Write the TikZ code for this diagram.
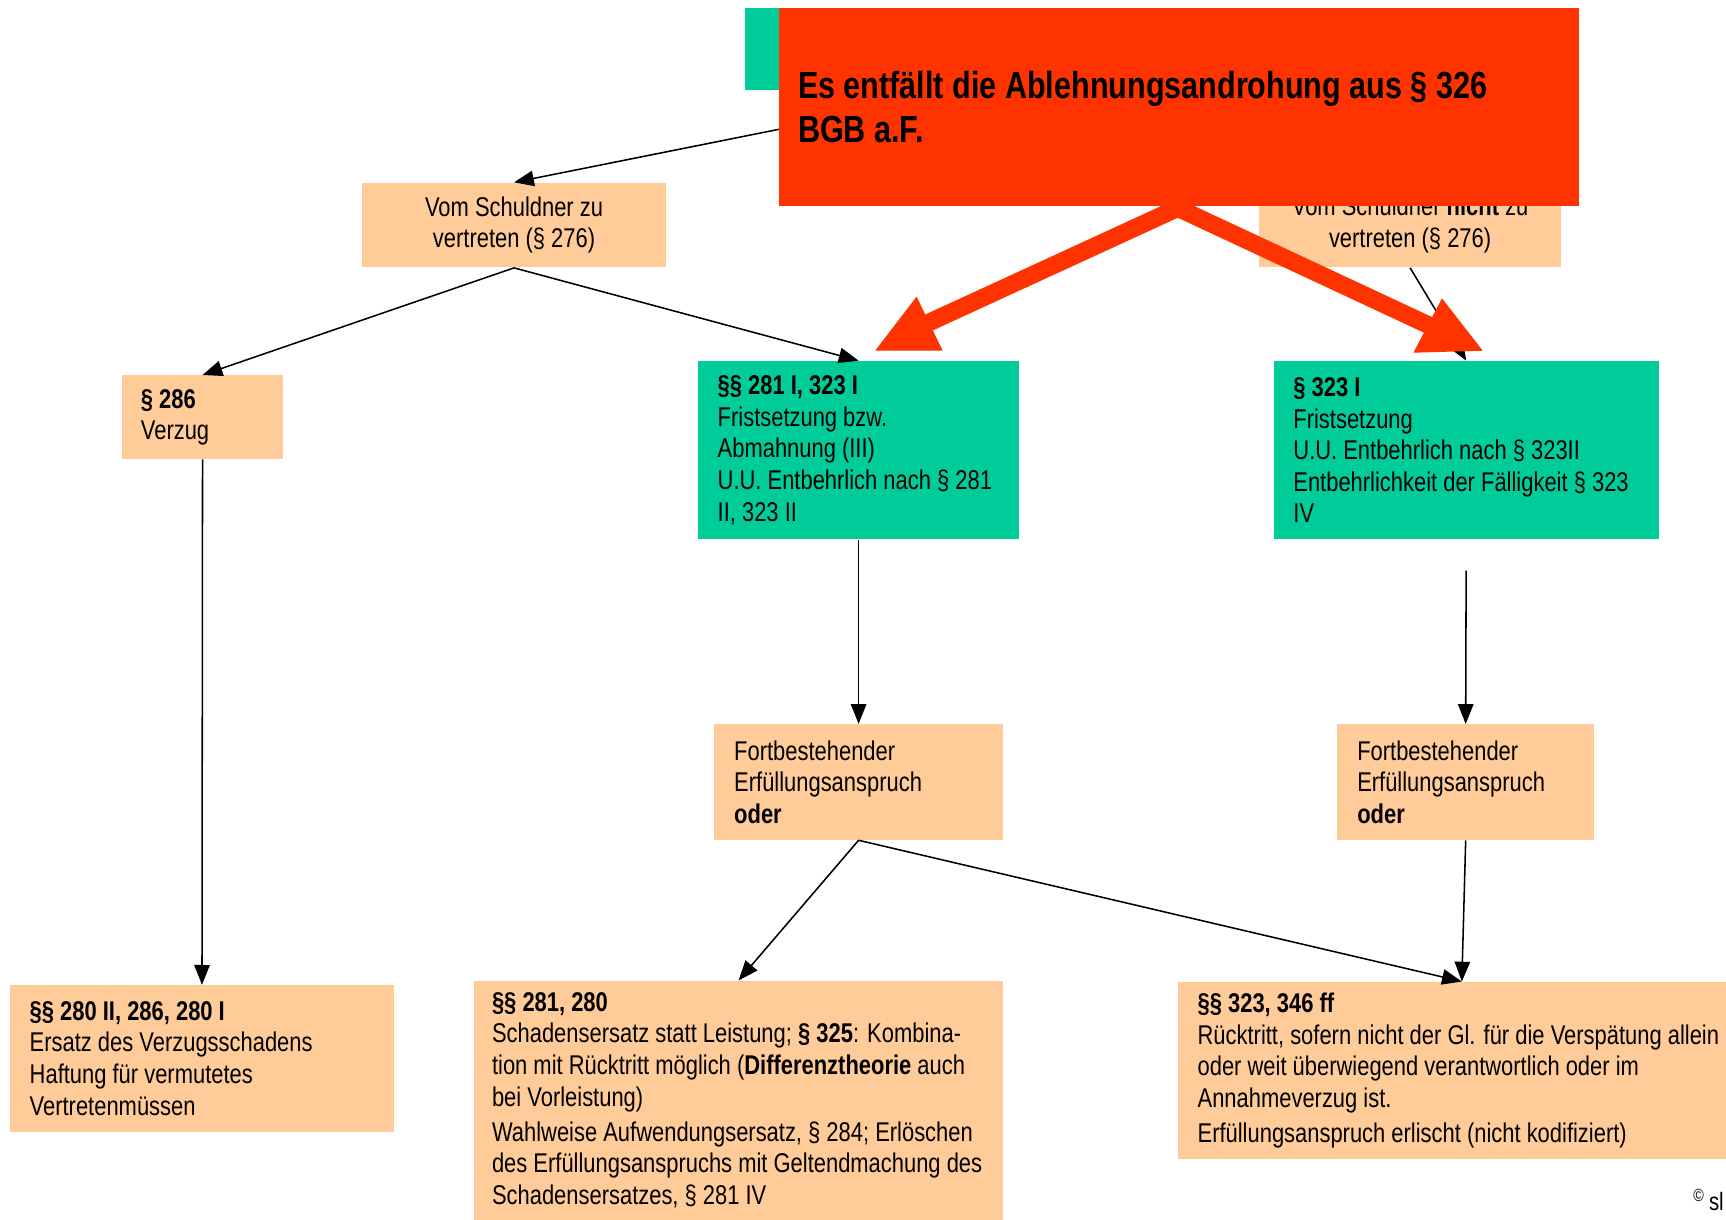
\documentclass[tikz,border=0pt]{standalone}
\usepackage{fontspec}
\setmainfont{Liberation Sans}[FakeStretch=0.81]
\usetikzlibrary{arrows.meta,positioning}
\definecolor{peach}{HTML}{FFCC99}
\definecolor{mint}{HTML}{00CC99}
\definecolor{signal}{HTML}{FF3300}
\tikzset{
  box/.style={fill=peach, inner xsep=3.6mm, inner ysep=0pt, align=flush left,
    font=\fontsize{14}{16.3}\selectfont},
  gbox/.style={box, fill=mint},
  arr/.style={-{Triangle[length=3.6mm,width=2.8mm]}, line width=0.8pt},
}
\begin{document}
\begin{tikzpicture}[x=0.2mm, y=-0.2mm]
\useasboundingbox (0,0) rectangle (1568,1108);

% Head (hidden behind the note)
\node[fill=mint, minimum width=82.4mm, minimum height=15mm] (src) at (883,44.5) {};

% Vertretenmuessen
\node[box, align=center, minimum width=55.2mm, minimum height=15.4mm] (vzv) at (467,204.5)
  {Vom Schuldner zu\\vertreten (§ 276)};
\node[box, align=center, minimum width=54.8mm, minimum height=15.6mm] (nvzv) at (1281,204)
  {Vom Schuldner \textbf{nicht} zu\\vertreten (§ 276)};

% Verzug / Fristsetzung
\node[box, text width=22.4mm, inner xsep=3.4mm, minimum height=15.2mm] (verzug) at (184,379)
  {\textbf{§ 286}\\Verzug};
\node[gbox, text width=51.2mm, minimum height=32.4mm] (frist) at (780,409)
  {\textbf{§§ 281 I, 323 I}\\Fristsetzung bzw.\\Abmahnung (III)\\U.U. Entbehrlich nach § 281\\II, 323 II};
\node[gbox, text width=62.8mm, minimum height=32.4mm] (fristrt) at (1332,409)
  {\textbf{§ 323 I}\\Fristsetzung\\U.U. Entbehrlich nach § 323II\\Entbehrlichkeit der Fälligkeit § 323\\IV};

% Erfuellungsanspruch
\node[box, text width=45.2mm, minimum height=21mm] (fortse) at (780,710.5)
  {Fortbestehender\\Erfüllungsanspruch\\\textbf{oder}};
\node[box, text width=39.4mm, minimum height=21mm] (fortrt) at (1331.5,710.5)
  {Fortbestehender\\Erfüllungsanspruch\\\textbf{oder}};

% Rechtsfolgen
\node[box, text width=62.6mm, minimum height=26.6mm] (verzugsschaden) at (183.5,961.5)
  {\textbf{§§ 280 II, 286, 280 I}\\Ersatz des Verzugsschadens\\Haftung für vermutetes\\Vertretenmüssen};
\node[box, text width=89.6mm, inner xsep=3.2mm, minimum height=43.4mm] (schadensersatz) at (671,999.5)
  {\textbf{§§ 281, 280}\\Schadensersatz statt Leistung; \textbf{§ 325}: Kombina-\\tion mit Rücktritt möglich (\textbf{Differenztheorie} auch\\bei Vorleistung)\\[2pt]Wahlweise Aufwendungsersatz, § 284; Erlöschen\\des Erfüllungsanspruchs mit Geltendmachung des\\Schadensersatzes, § 281 IV};
\node[box, text width=96mm, minimum height=32.2mm] (ruecktritt) at (1328,972.5)
  {\textbf{§§ 323, 346 ff}\\Rücktritt, sofern nicht der Gl. für die Verspätung allein\\oder weit überwiegend verantwortlich oder im\\Annahmeverzug ist.\\[2pt]Erfüllungsanspruch erlischt (nicht kodifiziert)};

\node[anchor=west, inner sep=0pt, font=\fontsize{13}{15}\selectfont] (copy) at (1538,1090)
  {\textsuperscript{©}\,sl};

% Arrows
\draw[arr] (src.south) -- (vzv.north);
\draw[arr] (vzv.south) -- (verzug.north);
\draw[arr] (vzv.south) -- (frist.north);
\draw[arr] (nvzv.south) -- (fristrt.north);
\draw[arr] (verzug.south) -- (verzugsschaden.north);
\draw[arr] (frist.south) -- (fortse.north);
\draw[arr, shorten <=5.6mm] (fristrt.south) -- (fortrt.north);
\draw[arr] (fortse.south) -- (schadensersatz.north);
\draw[arr] (fortse.south) -- (ruecktritt.north);
\draw[arr] (fortrt.south) -- (ruecktritt.north);

% Red note with its two arrows
\coordinate (apex) at (1070,189);
\coordinate (lhead) at (833,298);
\coordinate (rhead) at (1312,302);
\draw[signal, line width=3.2mm] (lhead) -- (apex) -- (rhead);
\fill[signal] (795,318.6) -- (832.7,269.5) -- (856.4,318.6) -- cycle;
\fill[signal] (1284,320.4) -- (1310,271) -- (1347,318.6) -- cycle;
\node[fill=signal, minimum width=145.2mm, minimum height=36mm, text width=138.4mm, inner xsep=3.4mm,
  align=flush left, font=\bfseries\fontsize{19.5}{22.8}\selectfont] (note) at (1071,97)
  {Es entfällt die Ablehnungsandrohung aus § 326\\BGB a.F.};
\end{tikzpicture}
\end{document}
